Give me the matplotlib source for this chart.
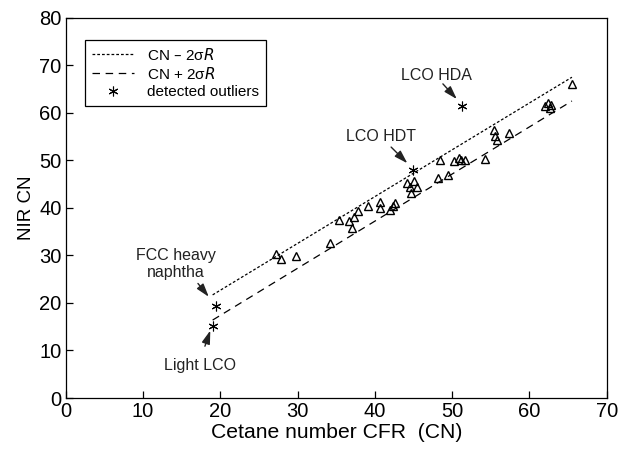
import numpy as np
import matplotlib
matplotlib.use('Agg')
import matplotlib.pyplot as plt

plt.rcParams['font.family'] = ['Liberation Sans', 'DejaVu Sans']

# Datos
cfr_cn = [27.2, 27.9, 29.8, 34.2, 35.4, 36.7, 37.1, 37.3, 37.8, 39.1,
          40.6, 40.6, 41.9, 42.3, 42.6, 44.2, 45.1, 44.5, 45.5, 44.7,
          48.4, 48.2, 49.5, 50.3, 50.9, 51.2, 51.7, 54.3, 55.4, 55.6,
          55.8, 57.4, 62.0, 62.4, 62.8, 62.6, 65.5]
nir_cn = [30.3, 29.3, 29.9, 32.6, 37.5, 37.3, 35.7, 38.1, 39.4, 40.3,
          41.3, 39.9, 39.6, 40.3, 41.0, 45.2, 45.7, 44.5, 44.5, 43.1,
          50.1, 46.3, 46.9, 49.8, 50.6, 50.1, 50.1, 50.3, 56.3, 55.2,
          54.3, 55.7, 61.5, 62.0, 61.7, 61.0, 66.1]

out_cfr = [19.4, 19.1, 44.9, 51.3]
out_nir = [19.4, 15.2, 48.0, 61.5]

# Limites CN -/+ 2 sigma R
lim_x = [19.0, 65.5]
lim_inf = [21.7, 67.5]
lim_sup = [16.4, 62.5]

# Etiquetas: texto, posicion del texto, cola y punta de la flecha
etiquetas = ['FCC heavy\nnaphtha', 'Light LCO', 'LCO HDT', 'LCO HDA']
pos_texto = [(14.2, 28.2), (17.3, 6.9), (40.8, 55.0), (47.9, 67.8)]
cola = [(17.1, 24.1), (18.0, 10.9), (42.1, 52.8), (48.8, 66.1)]
punta = [(18.5, 21.3), (18.7, 14.2), (44.2, 49.4), (50.6, 62.9)]

fig = plt.figure(figsize=(6.21, 4.51), dpi=100)
ax = fig.add_axes([0.106, 0.1175, 0.871, 0.843])

ax.plot(lim_x, lim_inf, color='black', lw=0.9, linestyle=(0, (2.2, 1.6)),
        label='CN \u2013 2\u03c3$R$')
ax.plot(lim_x, lim_sup, color='black', lw=0.9, linestyle=(0, (6, 4.5)),
        label='CN + 2\u03c3$R$')
ax.plot(cfr_cn, nir_cn, linestyle='none', marker='^', markersize=6,
        markerfacecolor='none', markeredgecolor='black', markeredgewidth=1.0)
ax.plot(out_cfr, out_nir, linestyle='none', marker=(6, 2, 0), markersize=7,
        color='black', markeredgewidth=0.8, label='detected outliers')

for txt, pt, c, p in zip(etiquetas, pos_texto, cola, punta):
    ax.text(pt[0], pt[1], txt, ha='center', va='center', fontsize=11.5,
            color='#222222', linespacing=1.15)
    ax.annotate('', xy=p, xytext=c,
                arrowprops=dict(arrowstyle='-|>,head_length=0.8,head_width=0.25',
                                color='#222222', lw=1.0, shrinkA=0, shrinkB=0))

ax.set_xlim(0, 70)
ax.set_ylim(0, 80)
ax.set_xticks(np.arange(0, 71, 10))
ax.set_yticks(np.arange(0, 81, 10))
ax.tick_params(direction='in', length=5, labelsize=14.5, width=0.9, pad=3)
for s in ax.spines.values():
    s.set_linewidth(0.9)

ax.set_xlabel('Cetane number CFR  (CN)', fontsize=15.2, labelpad=1)
ax.set_ylabel('NIR CN', fontsize=13.5, labelpad=3)

leg = ax.legend(loc='upper left', bbox_to_anchor=(0.035, 0.942), fontsize=11,
                fancybox=False, framealpha=1, edgecolor='black',
                handlelength=2.75, handletextpad=0.85, borderpad=0.45,
                labelspacing=0.2, borderaxespad=0)
leg.get_frame().set_linewidth(0.9)

plt.savefig('out.png', dpi=100)
